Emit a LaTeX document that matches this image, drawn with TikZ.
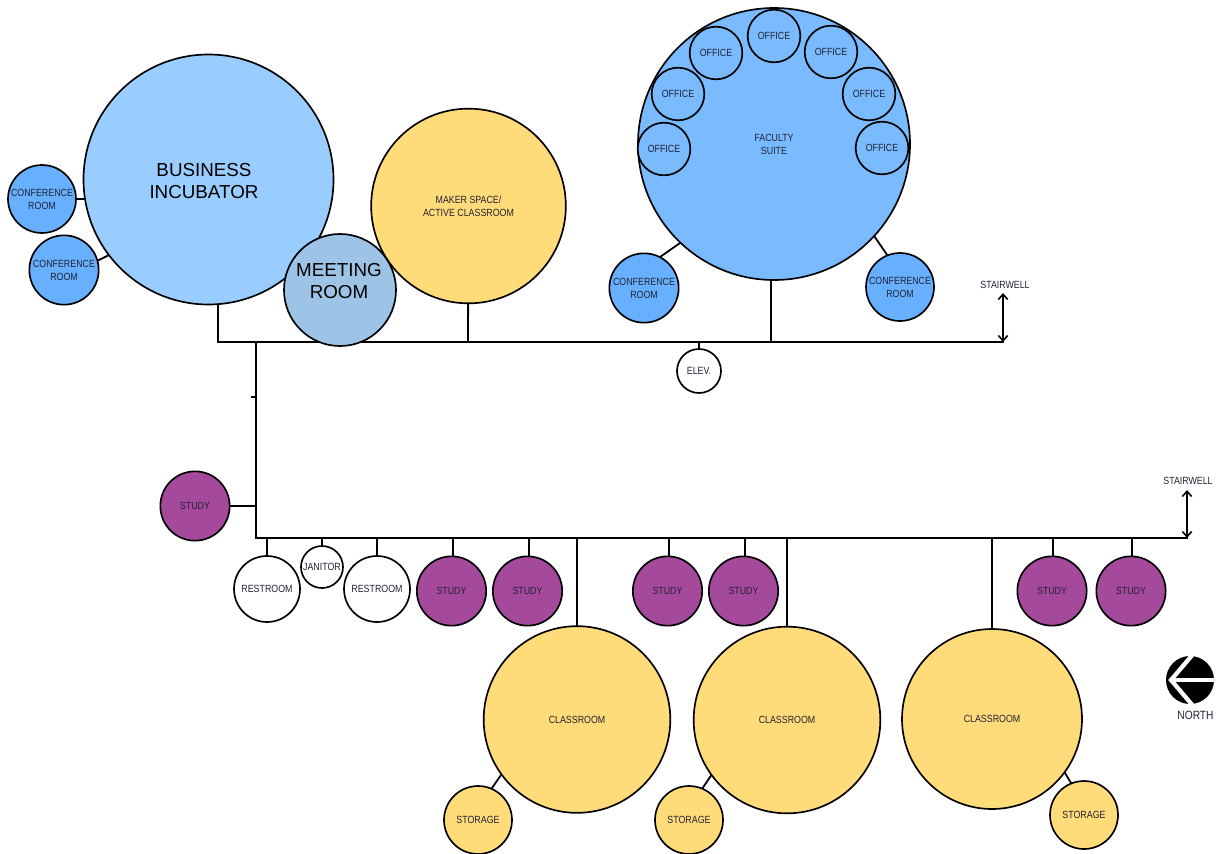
\documentclass[tikz,border=0pt]{standalone}
\usepackage{fontspec}
\setmainfont[FakeStretch=0.85]{Liberation Sans}
\newfontfamily\plainfam{Liberation Sans}
\usetikzlibrary{backgrounds,arrows.meta}
\definecolor{cInc}{HTML}{99CCFF}
\definecolor{cConf}{HTML}{66B0FF}
\definecolor{cFac}{HTML}{7ABAFF}
\definecolor{cMeet}{HTML}{9DC3E6}
\definecolor{cYel}{HTML}{FFDB7A}
\definecolor{cStudy}{HTML}{A5499D}
\definecolor{cTxt}{HTML}{222233}
\tikzset{
  room/.style={circle,draw=black,line width=1.25pt,inner sep=0pt,align=center,text=cTxt,font=\fontsize{7.8}{9.75}\selectfont},
  bigtext/.style={inner sep=0pt,align=center,text=black,font=\plainfam\fontsize{14.1}{16}\selectfont},
  wire/.style={line width=1.35pt,line cap=rect},
  stair/.style={line width=1.2pt,{Straight Barb[length=4pt,width=7pt]}-{Straight Barb[length=4pt,width=7pt]}},
  lbl/.style={inner sep=0pt,text=cTxt,font=\fontsize{7.8}{9.75}\selectfont},
}
\begin{document}
\begin{tikzpicture}[x=0.75pt,y=-0.75pt]
\useasboundingbox (0,0) rectangle (1220,853);
% rooms
\node[room,fill=cInc,minimum size=187.5pt] (inc) at (208.5,179.5) {};
\node[bigtext] (inclab) at (204,181) {BUSINESS\\INCUBATOR};
\node[room,fill=cYel,minimum size=146pt] (maker) at (468.5,206) {MAKER SPACE/\\ACTIVE CLASSROOM};
\node[room,fill=cMeet,minimum size=84pt] (meet) at (340,290) {};
\node[bigtext,font=\plainfam\fontsize{14.1}{16.5}\selectfont] (meetlab) at (339,281.5) {MEETING\\ROOM};
\node[room,fill=cFac,minimum size=204pt] (fac) at (774,144) {FACULTY\\SUITE};
\foreach \n/\x/\y in {o1/664/149,o2/678/94,o3/716/53,o4/774/36,o5/831/52,o6/869/94,o7/882/148}
  \node[room,fill=cFac,minimum size=39.5pt] (\n) at (\x,\y) {OFFICE};
\node[room,fill=cConf,minimum size=51pt] (c1) at (42,199) {CONFERENCE\\ROOM};
\node[room,fill=cConf,minimum size=52pt] (c2) at (64,270) {CONFERENCE\\ROOM};
\node[room,fill=cConf,minimum size=52pt] (c3) at (644,288) {CONFERENCE\\ROOM};
\node[room,fill=cConf,minimum size=51pt] (c4) at (900,287) {CONFERENCE\\ROOM};
\node[room,fill=white,minimum size=33pt] (elev) at (699,371) {ELEV.};
\node[room,fill=cStudy,minimum size=52pt] (s0) at (195,506) {STUDY};
\foreach \n/\x in {s1/451.5,s2/527.5,s3/667.5,s4/743.5,s5/1052,s6/1131}
  \node[room,fill=cStudy,minimum size=52pt] (\n) at (\x,591) {STUDY};
\node[room,fill=white,minimum size=49.5pt] (r1) at (267,589) {RESTROOM};
\node[room,fill=white,minimum size=49.5pt] (r2) at (377,589) {RESTROOM};
\node[room,fill=white,minimum size=31.5pt] (jan) at (322,567) {JANITOR};
\node[room,fill=cYel,minimum size=140pt] (cl1) at (577,719.5) {CLASSROOM};
\node[room,fill=cYel,minimum size=140pt] (cl2) at (787,720) {CLASSROOM};
\node[room,fill=cYel,minimum size=135pt] (cl3) at (992,719) {CLASSROOM};
\node[room,fill=cYel,minimum size=51pt] (st1) at (478,820) {STORAGE};
\node[room,fill=cYel,minimum size=51pt] (st2) at (689,820) {STORAGE};
\node[room,fill=cYel,minimum size=51pt] (st3) at (1084,815) {STORAGE};
% labels
\node[lbl,anchor=base] (sw1) at (1005,288.5) {STAIRWELL};
\node[lbl,anchor=base] (sw2) at (1188,484.5) {STAIRWELL};
\node[lbl,anchor=base,font=\fontsize{9}{10}\selectfont] (nlab) at (1195.5,719.5) {NORTH};
% north symbol
\node[circle,fill=black,inner sep=0pt,minimum size=36pt] (nsym) at (1190,680) {};
\coordinate (ntip) at (1171,680);
\coordinate (nend) at (1214,680);
\coordinate (nup) at (1194,653);
\coordinate (ndn) at (1194,707);
\draw[white,line width=3.2pt,line join=miter] (nup) -- (ntip) -- (ndn);
\draw[white,line width=3.2pt] (ntip) -- (nend);
% bus points
\coordinate (b1a) at (218,342);
\coordinate (b1v) at (256,342);
\coordinate (b1m) at (468,342);
\coordinate (b1e) at (699,342);
\coordinate (b1f) at (771,342);
\coordinate (b1z) at (1003,342);
\coordinate (st1top) at (1003,293);
\coordinate (b2a) at (256,538);
\coordinate (b2z) at (1187,538);
\coordinate (st2top) at (1187,490);
\coordinate (tick) at (252,397);
\coordinate (tickb) at (256,397);
% joint points of the oblique links
\coordinate (jc2a) at (89,265); \coordinate (jc2b) at (119,250);
\coordinate (jc3a) at (650,264); \coordinate (jc3b) at (690,236);
\coordinate (jc4a) at (894,265); \coordinate (jc4b) at (868,227);
\coordinate (jst1a) at (485,798); \coordinate (jst1b) at (508,765);
\coordinate (jst2a) at (696,798); \coordinate (jst2b) at (718,765);
\coordinate (jst3a) at (1077,793); \coordinate (jst3b) at (1059,763);
\begin{scope}[on background layer]
\draw[wire] (b1a) -- (b1z);
\draw[wire] (b1v) -- (b2a) -- (b2z);
\draw[wire] (tick) -- (tickb);
\draw[wire] (b1a) -- (b1a |- inc.center);
\draw[wire] (b1m) -- (maker.center);
\draw[wire] (b1e) -- (elev.center);
\draw[wire] (b1f) -- (b1f |- fac.center);
\draw[wire] (c1.center) -- (inc.center |- c1.center);
\draw[wire] (jc2a) -- (jc2b);
\draw[wire] (jc3a) -- (jc3b);
\draw[wire] (jc4a) -- (jc4b);
\draw[wire] (s0.center) -- (s0.center -| b2a);
\draw[wire] (jan.center) -- (jan.center |- b2a);
\foreach \n in {r1,r2}
  \draw[wire] (\n.center) -- (\n.center |- b2a);
\foreach \n in {s1,s2,s3,s4,s5,s6}
  \draw[wire] ([xshift=1pt]\n.center) -- ([xshift=1pt]\n.center |- b2a);
\draw[wire] (cl1.center) -- (cl1.center |- b2a);
\draw[wire] (cl2.center) -- (cl2.center |- b2a);
\draw[wire] (cl3.center) -- (cl3.center |- b2a);
\draw[wire] (jst1a) -- (jst1b);
\draw[wire] (jst2a) -- (jst2b);
\draw[wire] (jst3a) -- (jst3b);
\end{scope}
\draw[stair] (st1top) -- (b1z);
\draw[stair] (st2top) -- (b2z);
\end{tikzpicture}
\end{document}
